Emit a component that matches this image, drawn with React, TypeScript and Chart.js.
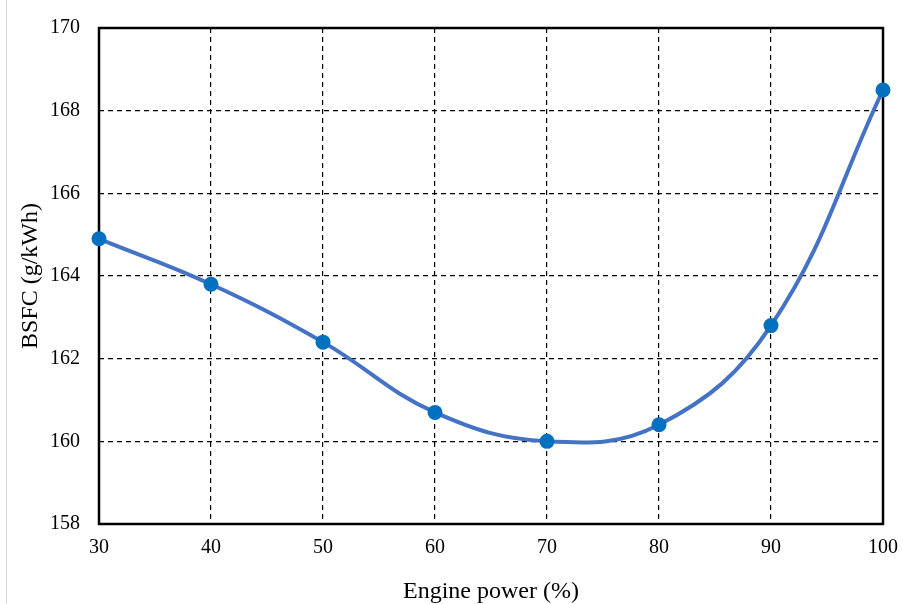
import React, { useEffect, useRef } from "react";
import { Chart, registerables } from "chart.js";

Chart.register(...registerables);

const enginePower = [30, 40, 50, 60, 70, 80, 90, 100];
const bsfc = [164.9, 163.8, 162.4, 160.7, 160.0, 160.4, 162.8, 168.5];
const xTitle = "Engine power (%)";
const yTitle = "BSFC (g/kWh)";

const FONT = "'Liberation Serif', 'Times New Roman', serif";

export default function App() {
  const ref = useRef<HTMLCanvasElement | null>(null);

  useEffect(() => {
    if (!ref.current) return;
    const chart = new Chart(ref.current, {
      type: "line",
      data: {
        datasets: [
          {
            data: enginePower.map((x, i) => ({ x, y: bsfc[i] })),
            borderColor: "#4472C4",
            borderWidth: 4,
            pointRadius: 7.5,
            pointBackgroundColor: "#0070C0",
            pointBorderColor: "#0070C0",
            pointBorderWidth: 0,
            tension: 0.4,
            clip: false as any,
          },
        ],
      },
      options: {
        responsive: false,
        animation: false,
        layout: { padding: { top: 28, right: 20, left: 0, bottom: 0 } },
        plugins: { legend: { display: false }, tooltip: { enabled: false } },
        scales: {
          x: {
            type: "linear",
            min: 30,
            max: 100,
            afterFit: (s: any) => {
              s.height = 80;
              s.paddingLeft = 0;
              s.paddingRight = 0;
            },
            ticks: {
              stepSize: 10,
              color: "#000",
              padding: 12,
              font: { family: FONT, size: 20 },
              maxRotation: 0,
            },
            grid: {
              color: "#000",
              lineWidth: 1.2,
              drawTicks: false,
            },
            border: { display: false, dash: [5, 4] },
            title: {
              display: true,
              text: xTitle,
              color: "#000",
              font: { family: FONT, size: 24 },
              padding: { top: 0, bottom: -2 },
            },
          } as any,
          y: {
            type: "linear",
            min: 158,
            max: 170,
            afterFit: (s: any) => {
              s.width = 99;
              s.paddingTop = 0;
              s.paddingBottom = 0;
            },
            ticks: {
              stepSize: 2,
              color: "#000",
              padding: 19,
              font: { family: FONT, size: 20 },
            },
            grid: {
              color: "#000",
              lineWidth: 1.2,
              drawTicks: false,
            },
            border: { display: false, dash: [5, 4] },
            title: {
              display: true,
              text: yTitle,
              color: "#000",
              font: { family: FONT, size: 24 },
              padding: { top: 16, bottom: 0 },
            },
          } as any,
        },
      },
      plugins: [
        {
          id: "frame",
          beforeDatasetsDraw(c: any) {
            const { ctx, chartArea } = c;
            ctx.save();
            ctx.setLineDash([]);
            ctx.strokeStyle = "#000";
            ctx.lineWidth = 2.5;
            ctx.strokeRect(chartArea.left, chartArea.top, chartArea.right - chartArea.left, chartArea.bottom - chartArea.top);
            ctx.restore();
          },
        },
      ],
    });
    return () => chart.destroy();
  }, []);

  return (
    <div style={{ position: "absolute", left: 0, top: 0, width: 903, height: 604, background: "#fff" }}>
      <div style={{ position: "absolute", left: 6, top: 0, width: 1, height: 604, background: "#d9d9d9" }} />
      <canvas ref={ref} width={903} height={604} style={{ position: "absolute", left: 0, top: 0 }} />
    </div>
  );
}
